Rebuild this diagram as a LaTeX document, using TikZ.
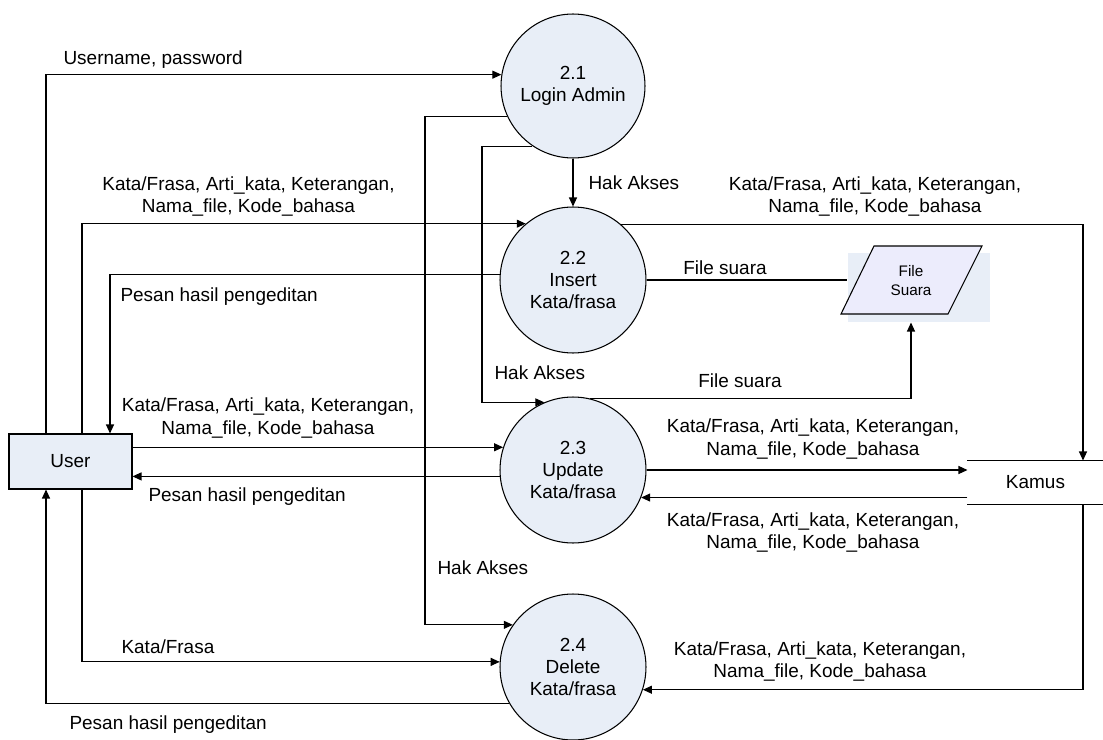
\documentclass[tikz,border=0pt]{standalone}
\usepackage{fontspec}
\setmainfont{Liberation Sans}
\usetikzlibrary{arrows.meta}

\definecolor{procfill}{RGB}{232,238,247}
\definecolor{filefill}{RGB}{236,236,252}

\begin{document}
\begin{tikzpicture}[x=0.02cm,y=-0.02cm,line width=0.6pt]
\tikzstyle{every node}=[font=\fontsize{10.8pt}{12.6pt}\selectfont, inner sep=0pt]
\tikzstyle{proc}=[circle, draw, fill=procfill, minimum size=2.92cm, align=center]
\tikzstyle{ent}=[rectangle, draw, fill=procfill, minimum width=2.46cm, minimum height=1.1cm]
\tikzstyle{store}=[rectangle, minimum width=2.7cm, minimum height=0.86cm]
\tikzstyle{flow}=[-{Triangle[length=0.18cm,width=0.16cm]}]
\tikzstyle{lbl}=[align=center]
\useasboundingbox (0,0) rectangle (1103,740);

\node[ent] (user) at (70.5,461.5) {User};
\node[proc, minimum size=2.88cm] (p1) at (573,86) {2.1\\Login Admin};
\node[proc] (p2) at (573,280) {2.2\\Insert\\Kata/frasa};
\node[proc] (p3) at (573,470) {2.3\\Update\\Kata/frasa};
\node[proc] (p4) at (573,667) {2.4\\Delete\\Kata/frasa};
\node[store] (kamus) at (1035.5,482.5) {Kamus};
\draw (kamus.north west) -- (kamus.north east) (kamus.south west) -- (kamus.south east);
\node[fill=procfill, minimum width=2.84cm, minimum height=1.38cm] (fsuara) at (919,287.5) {};
\draw[fill=filefill] (841,314) -- (874,246) -- (982,246) -- (948,314) -- cycle;
\node[align=center, font=\fontsize{8.7pt}{10.8pt}\selectfont] (fstext) at (911,281) {File\\Suara};

\coordinate (la) at (46,0);
\coordinate (lb) at (82,0);
\coordinate (lc) at (110,0);
\coordinate (ld) at (425,0);
\coordinate (le) at (482,0);
\coordinate (lf) at (1083,0);
\coordinate (lg) at (911,0);

\draw[flow] (user.north -| la) |- (p1.171);
\draw[flow] (user.north -| lb) |- (p2.130);
\draw[flow] (p2.176) -| (user.north -| lc);
\draw[flow] (p1.south) -- (p2.north);
\draw[flow] (p1.236) -| (le |- p3.113) -- (p3.113);
\draw[flow] (p1.205) -| (ld |- p4.145) -- (p4.145);
\draw[flow] (p3.162 -| user.east) -- (p3.162);
\draw[flow] (p3.185) -- (p3.185 -| user.east);
\draw[flow] (p3.east) -- (p3.east -| kamus.west);
\draw[flow] (kamus.west |- p3.-22) -- (p3.-22);
\draw[flow] (p2.49) -| (kamus.north -| lf);
\draw[flow] (kamus.south -| lf) |- (p4.-18);
\draw[flow] (user.south -| lb) |- (p4.176);
\draw[flow] (p4.210) -| (user.south -| la);
\draw (p2.east) -- (p2.east -| fsuara.west);
\draw[flow] (p3.77) -| (fsuara.south -| lg);

\node[anchor=west] (lusr) at (63,60) {Username, password};
\node[lbl] (lins) at (248.5,196.5) {Kata/Frasa, Arti\_kata, Keterangan,\\Nama\_file, Kode\_bahasa};
\node[anchor=west] (lpesan1) at (120,297) {Pesan hasil pengeditan};
\node[anchor=west] (lhak1) at (588,183) {Hak Akses};
\node[anchor=west] (lhak2) at (494,373) {Hak Akses};
\node[anchor=west] (lhak3) at (437,568) {Hak Akses};
\node[lbl] (lupd) at (268,418) {Kata/Frasa, Arti\_kata, Keterangan,\\Nama\_file, Kode\_bahasa};
\node[anchor=west] (lpesan2) at (148,497) {Pesan hasil pengeditan};
\node[lbl] (lkms1) at (875,196.5) {Kata/Frasa, Arti\_kata, Keterangan,\\Nama\_file, Kode\_bahasa};
\node[lbl] (lkms2) at (813,439) {Kata/Frasa, Arti\_kata, Keterangan,\\Nama\_file, Kode\_bahasa};
\node[lbl] (lkms3) at (813,532.5) {Kata/Frasa, Arti\_kata, Keterangan,\\Nama\_file, Kode\_bahasa};
\node[lbl] (lkms4) at (820,661.5) {Kata/Frasa, Arti\_kata, Keterangan,\\Nama\_file, Kode\_bahasa};
\node[anchor=west] (ldel) at (121,647) {Kata/Frasa};
\node[anchor=west] (lpesan3) at (69,725) {Pesan hasil pengeditan};
\node (lfs1) at (725,268) {File suara};
\node (lfs2) at (740,381) {File suara};
\end{tikzpicture}
\end{document}
